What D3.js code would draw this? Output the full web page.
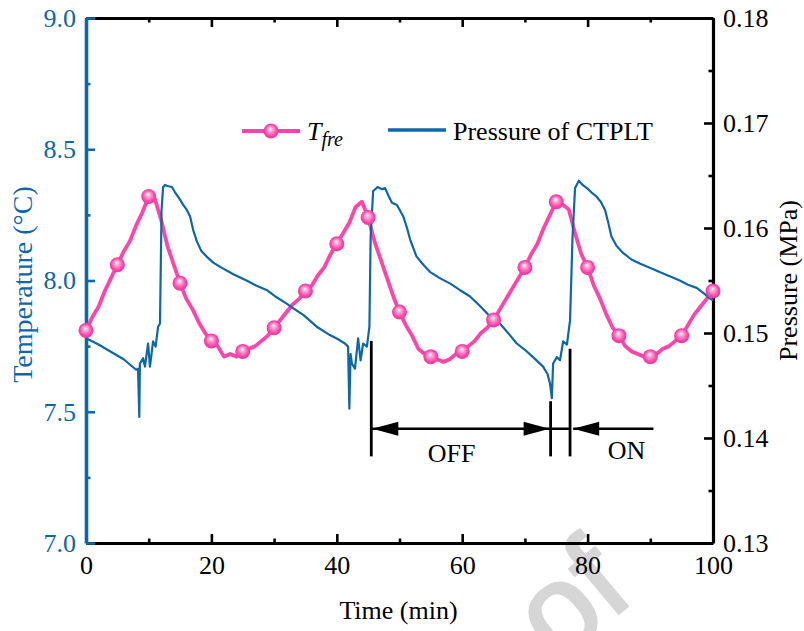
<!DOCTYPE html>
<html>
<head>
<meta charset="utf-8">
<script src="https://cdn.jsdelivr.net/npm/d3@7"></script>
<style>
   body { margin: 0; background: #fff; }
   svg text { font-family: "Liberation Serif", "Times New Roman", serif; }
</style>
</head>
<body>
<svg id="chart" width="804" height="631"></svg>
<script>
// ---- data ----
// freezer temperature, one value per minute (0..100)
var tempTime = d3.range(0, 101);
var tempVals = [
   7.81, 7.86, 7.90, 7.96, 8.01, 8.06, 8.11, 8.15, 8.21, 8.26,
   8.32, 8.31, 8.23, 8.13, 8.06, 7.99, 7.93, 7.89, 7.84, 7.80,
   7.77, 7.75, 7.71, 7.72, 7.71, 7.73, 7.74, 7.75, 7.77, 7.79,
   7.82, 7.85, 7.88, 7.91, 7.93, 7.96, 7.98, 8.02, 8.05, 8.10,
   8.14, 8.18, 8.22, 8.28, 8.30, 8.24, 8.15, 8.08, 8.01, 7.94,
   7.88, 7.83, 7.79, 7.74, 7.72, 7.71, 7.70, 7.69, 7.70, 7.72,
   7.73, 7.75, 7.77, 7.80, 7.82, 7.85, 7.89, 7.93, 7.97, 8.01,
   8.05, 8.10, 8.14, 8.20, 8.25, 8.30, 8.29, 8.27, 8.18, 8.10,
   8.05, 7.98, 7.93, 7.87, 7.82, 7.79, 7.75, 7.73, 7.72, 7.71,
   7.71, 7.72, 7.74, 7.75, 7.77, 7.79, 7.83, 7.87, 7.90, 7.93,
   7.96
];
var markerStep = 5;   // a sphere marker every 5 min

// pressure of CTPLT (MPa)
var presTime = [
   0, 2, 4.3, 6, 8.0, 8.3, 8.5, 8.6, 9.1, 9.4, 9.9, 10.2, 10.7, 11.1, 11.5, 11.8,
   12.05, 12.3, 12.6, 13.0, 13.7, 14.2, 15.0, 15.5, 16.0, 16.6, 17.1, 17.7, 18.4, 19.2,
   20.3, 21.4, 23.5, 25.6, 27.2, 28.8, 30.4, 32.0, 33.2, 34.7, 36.8, 38.9, 40.2, 41.3,
   41.8, 42.0, 42.2, 42.4, 42.9, 43.4, 43.8, 44.2, 44.8, 45.2, 45.4, 45.8, 46.5, 47.2,
   47.7, 48.3, 48.8, 49.6, 50.6, 51.2, 51.7, 52.7, 53.8, 54.9, 56.5, 58.1, 59.6, 61.2,
   62.8, 64.4, 66.0, 67.6, 68.7, 70.0, 71.3, 72.9, 73.6, 74.0, 74.3, 74.5, 75.1, 75.6,
   76.1, 76.7, 77.2, 77.6, 78.0, 78.6, 79.2, 79.9, 80.6, 81.4, 82.1, 82.8, 83.3, 83.8,
   84.6, 85.7, 87.0, 88.4, 90.0, 91.5, 93.1, 94.7, 96.0, 97.4, 98.5, 99.5, 100
];
var presVals = [
   0.1495, 0.1489, 0.1481, 0.1475, 0.1465, 0.1466, 0.1420, 0.1471, 0.1476, 0.1468, 0.1490, 0.1468, 0.1492, 0.1487, 0.1506, 0.1509,
   0.1617, 0.1639, 0.1641, 0.1640, 0.1639, 0.1634, 0.1627, 0.1622, 0.1618, 0.1611, 0.1598, 0.1587, 0.1578, 0.1573,
   0.1567, 0.1563, 0.1556, 0.1550, 0.1545, 0.1541, 0.1534, 0.1528, 0.1523, 0.1517, 0.1506, 0.1498, 0.1494, 0.1490,
   0.1487, 0.1428, 0.1480, 0.1471, 0.1466, 0.1495, 0.1474, 0.1490, 0.1487, 0.1506, 0.1592, 0.1635, 0.1639, 0.1637,
   0.1638, 0.1630, 0.1624, 0.1622, 0.1611, 0.1600, 0.1589, 0.1573, 0.1565, 0.1558, 0.1552, 0.1547, 0.1541, 0.1535,
   0.1526, 0.1516, 0.1509, 0.1498, 0.1490, 0.1484, 0.1477, 0.1468, 0.1461, 0.1452, 0.1438, 0.1471, 0.1477, 0.1474,
   0.1492, 0.1489, 0.1512, 0.1592, 0.1638, 0.1645, 0.1641, 0.1638, 0.1634, 0.1630, 0.1625, 0.1617, 0.1605, 0.1592,
   0.1583, 0.1576, 0.1570, 0.1566, 0.1562, 0.1558, 0.1554, 0.1550, 0.1546, 0.1543, 0.1538, 0.1533, 0.1531
];

// axis ticks
var timeTicks = [0, 20, 40, 60, 80, 100];
var timeMinor = [10, 30, 50, 70, 90];
var tempTicks = [7.0, 7.5, 8.0, 8.5, 9.0];
var tempMinor = [7.25, 7.75, 8.25, 8.75];
var presTicks = [0.13, 0.14, 0.15, 0.16, 0.17, 0.18];
var presMinor = [0.135, 0.145, 0.155, 0.165, 0.175];

// compressor OFF / ON annotation (time in min, temperature units for height)
var cutTimes = [45.5, 74.1, 77.2];
var cutTop = [7.77, 7.54, 7.74];
var cutBottom = 7.33;
var arrowLevel = 7.435;
var offSpan = [45.5, 74.1];
var onSpan = [77.7, 90.5];
var phaseLabels = [{ text: "OFF", t: 58.3, v: 7.31 }, { text: "ON", t: 86.2, v: 7.32 }];

// ---- layout ----
var pink = "#ff45aa";
var blue = "#0e67a8";
var plot = { left: 86, right: 713, top: 18, bottom: 543 };

var svg = d3.select("#chart");

var x = d3.scaleLinear().domain([0, 100]).range([plot.left, plot.right]);
var yT = d3.scaleLinear().domain([7.0, 9.0]).range([plot.bottom, plot.top]);
var yP = d3.scaleLinear().domain([0.13, 0.18]).range([plot.bottom, plot.top]);

// gradient for the shiny sphere markers
var defs = svg.append("defs");
var grad = defs.append("radialGradient").attr("id", "ball")
   .attr("cx", "0.5").attr("cy", "0.5").attr("r", "0.55")
   .attr("fx", "0.45").attr("fy", "0.35");
grad.append("stop").attr("offset", "0").attr("stop-color", "#ffffff");
grad.append("stop").attr("offset", "0.28").attr("stop-color", "#ffa6d6");
grad.append("stop").attr("offset", "0.7").attr("stop-color", "#ff45aa");
grad.append("stop").attr("offset", "1").attr("stop-color", "#e8359a");

// watermark, only the tail "of" falls on the page
svg.append("text")
   .attr("transform", "translate(637,598) rotate(-40)")
   .attr("text-anchor", "end")
   .style("font-family", "'Liberation Sans', Arial, sans-serif")
   .style("font-size", "124px")
   .attr("fill", "#d6d6d6")
   .attr("stroke", "#d6d6d6").attr("stroke-width", 3)
   .text("of");

// ---- axes ----
function styleAxis(g, color, width) {
   g.select(".domain").attr("stroke", color).attr("stroke-width", width);
   g.selectAll(".tick line").attr("stroke", color).attr("stroke-width", 2.6);
   g.selectAll(".tick text").attr("fill", color).style("font-size", "26px")
      .style("font-family", "'Liberation Serif', 'Times New Roman', serif");
}

// bottom
var gx = svg.append("g").attr("transform", "translate(0," + plot.bottom + ")")
   .call(d3.axisBottom(x).tickValues(timeTicks).tickSize(-9).tickSizeOuter(0).tickPadding(13));
styleAxis(gx, "#000", 3.2);
var gxm = svg.append("g").attr("transform", "translate(0," + plot.bottom + ")")
   .call(d3.axisBottom(x).tickValues(timeMinor).tickSize(-4.5).tickSizeOuter(0).tickFormat(""));
styleAxis(gxm, "#000", 0);

// top
var gt = svg.append("g").attr("transform", "translate(0," + plot.top + ")")
   .call(d3.axisTop(x).tickValues(timeTicks).tickSize(-9).tickSizeOuter(0).tickFormat(""));
styleAxis(gt, "#000", 3.2);
var gtm = svg.append("g").attr("transform", "translate(0," + plot.top + ")")
   .call(d3.axisTop(x).tickValues(timeMinor).tickSize(-4.5).tickSizeOuter(0).tickFormat(""));
styleAxis(gtm, "#000", 0);

// right, pressure
var gr = svg.append("g").attr("transform", "translate(" + plot.right + ",0)")
   .call(d3.axisRight(yP).tickValues(presTicks).tickSize(-9).tickSizeOuter(0).tickPadding(10)
      .tickFormat(d3.format(".2f")));
styleAxis(gr, "#000", 3.2);
var grm = svg.append("g").attr("transform", "translate(" + plot.right + ",0)")
   .call(d3.axisRight(yP).tickValues(presMinor).tickSize(-4.5).tickSizeOuter(0).tickFormat(""));
styleAxis(grm, "#000", 0);

// left, temperature (blue, drawn last so its corner ticks sit on top)
var gl = svg.append("g").attr("transform", "translate(" + plot.left + ",0)")
   .call(d3.axisLeft(yT).tickValues(tempTicks).tickSize(-9).tickSizeOuter(0).tickPadding(10)
      .tickFormat(d3.format(".1f")));
styleAxis(gl, blue, 3.6);
var glm = svg.append("g").attr("transform", "translate(" + plot.left + ",0)")
   .call(d3.axisLeft(yT).tickValues(tempMinor).tickSize(-4.5).tickSizeOuter(0).tickFormat(""));
styleAxis(glm, blue, 0);

// axis titles
svg.append("text")
   .attr("x", (plot.left + plot.right) / 2 - 1).attr("y", 619)
   .attr("text-anchor", "middle").style("font-size", "26px")
   .text("Time (min)");
svg.append("text")
   .attr("transform", "translate(32," + ((plot.top + plot.bottom) / 2 + 4) + ") rotate(-90)")
   .attr("text-anchor", "middle").style("font-size", "28px").attr("fill", blue)
   .text("Temperature (\u00B0C)");
svg.append("text")
   .attr("transform", "translate(797," + ((plot.top + plot.bottom) / 2) + ") rotate(-90)")
   .attr("text-anchor", "middle").style("font-size", "26px")
   .text("Pressure (MPa)");

// ---- series ----
var tempData = tempTime.map(function(t, i) { return [t, tempVals[i]]; });
var presData = presTime.map(function(t, i) { return [t, presVals[i]]; });

svg.append("path")
   .datum(tempData)
   .attr("fill", "none").attr("stroke", pink).attr("stroke-width", 3.8)
   .attr("stroke-linejoin", "round")
   .attr("d", d3.line().x(function(d) { return x(d[0]); }).y(function(d) { return yT(d[1]); }));

svg.append("path")
   .datum(presData)
   .attr("fill", "none").attr("stroke", blue).attr("stroke-width", 2.2)
   .attr("stroke-linejoin", "round")
   .attr("d", d3.line().x(function(d) { return x(d[0]); }).y(function(d) { return yP(d[1]); }));

svg.selectAll("circle.ball")
   .data(tempData.filter(function(d) { return d[0] % markerStep === 0; }))
   .enter()
   .append("circle")
   .attr("class", "ball")
   .attr("cx", function(d) { return x(d[0]); })
   .attr("cy", function(d) { return yT(d[1]); })
   .attr("r", 7.5)
   .attr("fill", "url(#ball)");

// ---- OFF / ON annotation ----
function arrowHead(tipX, y, dir) {
   // dir = -1 points left, +1 points right
   var len = 26, half = 7;
   return "M" + tipX + "," + y + "L" + (tipX - dir * len) + "," + (y - half) +
      "L" + (tipX - dir * len) + "," + (y + half) + "Z";
}

svg.selectAll("line.cut")
   .data(cutTimes)
   .enter()
   .append("line")
   .attr("class", "cut")
   .attr("x1", function(d) { return x(d); }).attr("x2", function(d) { return x(d); })
   .attr("y1", function(d, i) { return yT(cutTop[i]); })
   .attr("y2", yT(cutBottom))
   .attr("stroke", "#000").attr("stroke-width", 2.8);

var ay = yT(arrowLevel);
svg.append("line")
   .attr("x1", x(offSpan[0])).attr("x2", x(cutTimes[2]))
   .attr("y1", ay).attr("y2", ay)
   .attr("stroke", "#000").attr("stroke-width", 2.6);
svg.append("line")
   .attr("x1", x(onSpan[0])).attr("x2", x(onSpan[1]))
   .attr("y1", ay).attr("y2", ay)
   .attr("stroke", "#000").attr("stroke-width", 2.6);
svg.append("path").attr("d", arrowHead(x(offSpan[0]) + 1, ay, -1)).attr("fill", "#000");
svg.append("path").attr("d", arrowHead(x(offSpan[1]) - 1, ay, 1)).attr("fill", "#000");
svg.append("path").attr("d", arrowHead(x(onSpan[0]), ay, -1)).attr("fill", "#000");

svg.selectAll("text.phase")
   .data(phaseLabels)
   .enter()
   .append("text")
   .attr("class", "phase")
   .attr("x", function(d) { return x(d.t); })
   .attr("y", function(d) { return yT(d.v); })
   .attr("text-anchor", "middle").style("font-size", "26px")
   .text(function(d) { return d.text; });

// ---- legend ----
var leg = svg.append("g");
leg.append("line").attr("x1", 242).attr("x2", 300).attr("y1", 131).attr("y2", 131)
   .attr("stroke", pink).attr("stroke-width", 3.8);
leg.append("circle").attr("cx", 271).attr("cy", 131).attr("r", 7.5).attr("fill", "url(#ball)");
var lt = leg.append("text").attr("x", 307).attr("y", 140).style("font-size", "26px")
   .style("font-style", "italic");
lt.append("tspan").text("T");
lt.append("tspan").attr("dy", 6).style("font-size", "20px").text("fre");

leg.append("line").attr("x1", 388).attr("x2", 446).attr("y1", 130).attr("y2", 130)
   .attr("stroke", blue).attr("stroke-width", 3.4);
leg.append("text").attr("x", 453).attr("y", 140).style("font-size", "26px")
   .text("Pressure of CTPLT");
</script>
</body>
</html>
